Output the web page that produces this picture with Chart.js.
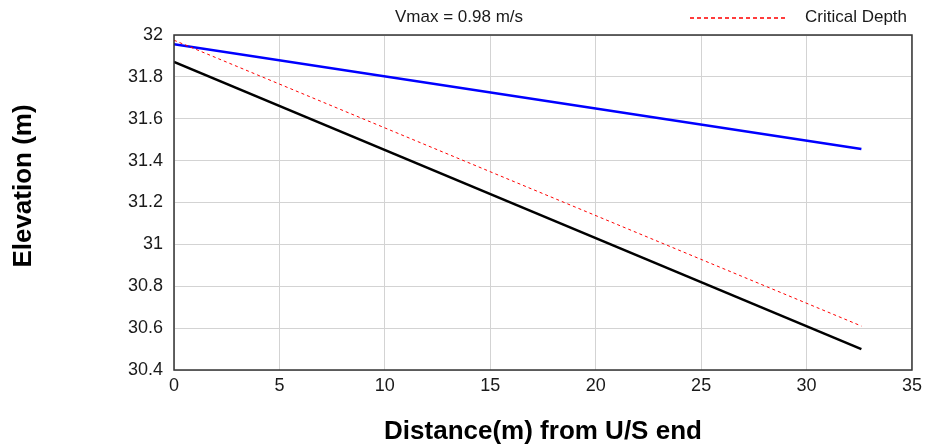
<!DOCTYPE html>
<html>
<head>
<meta charset="utf-8">
<script src="https://cdn.jsdelivr.net/npm/chart.js@4.4.1/dist/chart.umd.min.js"></script>
<style>
  html, body { margin: 0; padding: 0; background: #ffffff; }
  #wrap { width: 927px; height: 446px; }
</style>
</head>
<body>
<div id="wrap"><canvas id="profileChart" width="927" height="446"></canvas></div>
<script>
// distances along the culvert (m)
var distance = [0, 32.6];
// levels (m)
var waterSurface = [31.956, 31.455];
var bedLevel = [31.872, 30.50];
var criticalDepth = [31.975, 30.61];

var xTicks = [0, 5, 10, 15, 20, 25, 30, 35];
var yTicks = [30.4, 30.6, 30.8, 31, 31.2, 31.4, 31.6, 31.8, 32];

var headerTitle = 'Vmax = 0.98 m/s';
var legendLabel = 'Critical Depth';
var yTitle = 'Elevation (m)';
var xTitle = 'Distance(m) from U/S end';

var fontFamily = "Arial, 'Liberation Sans', sans-serif";

function toPoints(xs, ys) {
    return xs.map(function (x, i) { return { x: x, y: ys[i] }; });
}

// header text, legend entry, y title and the plot frame
var extras = {
    id: 'extras',
    afterDraw: function (chart) {
        var ctx = chart.ctx;
        var area = chart.chartArea;
        ctx.save();

        // frame
        ctx.strokeStyle = '#333333';
        ctx.lineWidth = 1.5;
        ctx.strokeRect(area.left, area.top, area.right - area.left, area.bottom - area.top);

        // header title
        ctx.fillStyle = '#1a1a1a';
        ctx.font = '17px ' + fontFamily;
        ctx.textAlign = 'center';
        ctx.textBaseline = 'middle';
        ctx.fillText(headerTitle, 459, 17);

        // legend entry
        ctx.beginPath();
        ctx.strokeStyle = 'rgb(255, 60, 60)';
        ctx.lineWidth = 2;
        ctx.setLineDash([4, 3]);
        ctx.moveTo(690, 18);
        ctx.lineTo(787, 18);
        ctx.stroke();
        ctx.setLineDash([]);
        ctx.textAlign = 'left';
        ctx.fillText(legendLabel, 805, 17);

        // y axis title
        ctx.translate(24, 186);
        ctx.rotate(-Math.PI / 2);
        ctx.textAlign = 'center';
        ctx.fillStyle = '#000000';
        ctx.font = 'bold 26px ' + fontFamily;
        ctx.fillText(yTitle, 0, 0);
        ctx.restore();
    }
};

var ctx = document.getElementById('profileChart').getContext('2d');
var profileChart = new Chart(ctx, {
    type: 'line',
    data: {
        datasets: [{
            label: 'Water Surface',
            data: toPoints(distance, waterSurface),
            borderColor: '#0000ff',
            borderWidth: 2.5,
            pointRadius: 0,
            fill: false,
            order: 2
        }, {
            label: 'Bed',
            data: toPoints(distance, bedLevel),
            borderColor: '#000000',
            borderWidth: 2.5,
            pointRadius: 0,
            fill: false,
            order: 3
        }, {
            label: legendLabel,
            data: toPoints(distance, criticalDepth),
            borderColor: '#ff0000',
            borderWidth: 1,
            borderDash: [3, 3],
            pointRadius: 0,
            fill: false,
            order: 1
        }]
    },
    options: {
        responsive: false,
        animation: false,
        layout: { padding: { left: 0, top: 35, right: 14, bottom: 0 } },
        plugins: {
            legend: { display: false },
            title: { display: false },
            tooltip: { enabled: false }
        },
        scales: {
            x: {
                type: 'linear',
                min: 0,
                max: 35,
                afterBuildTicks: function (scale) {
                    scale.ticks = xTicks.map(function (v) { return { value: v }; });
                },
                afterFit: function (scale) { scale.height = 76; },
                grid: { color: '#d3d3d3', lineWidth: 1, drawTicks: false },
                border: { display: false },
                ticks: {
                    padding: 5,
                    color: '#1a1a1a',
                    font: { family: fontFamily, size: 18 },
                    maxRotation: 0
                },
                title: {
                    display: true,
                    text: xTitle,
                    color: '#000000',
                    font: { family: fontFamily, size: 26, weight: 'bold', lineHeight: 1 },
                    padding: { top: 0, bottom: 1 }
                }
            },
            y: {
                min: 30.4,
                max: 32,
                afterBuildTicks: function (scale) {
                    scale.ticks = yTicks.map(function (v) { return { value: v }; });
                },
                afterFit: function (scale) { scale.width = 174; },
                grid: { color: '#d3d3d3', lineWidth: 1, drawTicks: false },
                border: { display: false },
                ticks: {
                    padding: 11,
                    color: '#1a1a1a',
                    font: { family: fontFamily, size: 18 },
                    callback: function (v) { return String(Number(v.toFixed(1))); }
                }
            }
        }
    },
    plugins: [extras]
});
</script>
</body>
</html>
